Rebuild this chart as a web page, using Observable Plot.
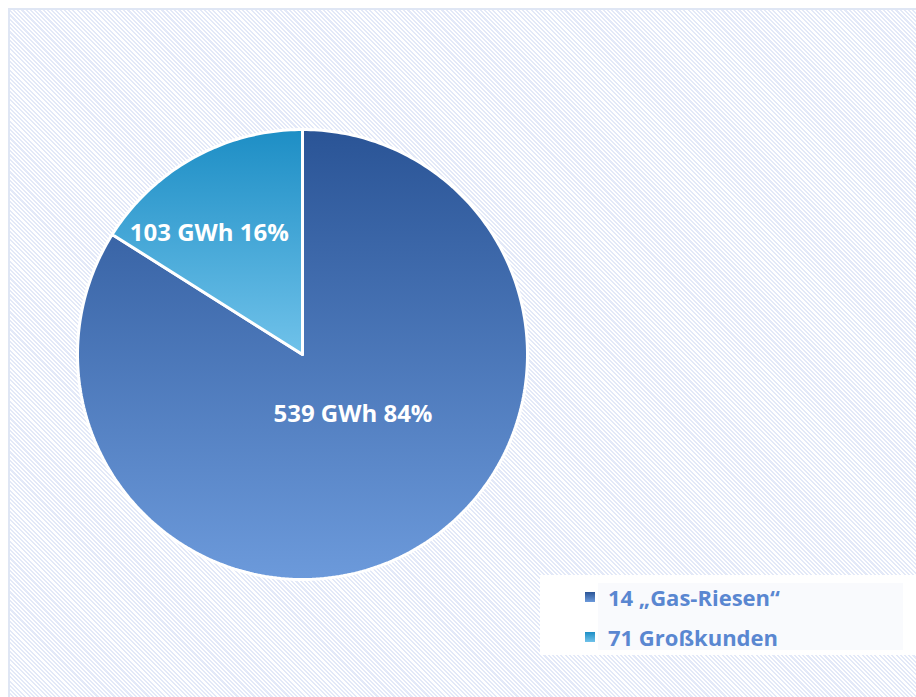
<!DOCTYPE html>
<html>
<head>
<meta charset="utf-8">
<script src="https://cdn.jsdelivr.net/npm/d3@7"></script>
<script src="https://cdn.jsdelivr.net/npm/@observablehq/plot@0.6"></script>
<style>
  html, body { margin: 0; padding: 0; background: #ffffff; }
  #wrap { position: relative; width: 916px; height: 697px; overflow: hidden; font-family: "Open Sans", Lato, sans-serif; }
  #hatch {
    position: absolute; left: 8px; top: 8px; right: 0; bottom: 0;
    border-top: 2px solid #dfe6f4; border-left: 2px solid #dfe6f4;
    background: repeating-linear-gradient(45deg, #ffffff 0px, #ffffff 1.5px, #e3e9f8 1.5px, #e3e9f8 3px);
  }
  #chart { position: absolute; left: 0; top: 0; }
  #legend {
    position: absolute; left: 540px; top: 575px; width: 376px; height: 80px; background: #ffffff;
  }
  #legend .inner { position: absolute; left: 58px; top: 8px; width: 305px; height: 67px; background: #f9fafd; }
  #legend .item { position: absolute; left: 45px; height: 30px; display: flex; align-items: center; white-space: nowrap; }
  #legend .sw { width: 10px; height: 10px; margin-right: 13px; }
  #legend .lab { font-weight: 700; font-size: 22px; color: #5a87d1; }
</style>
</head>
<body>
<div id="wrap">
  <div id="hatch"></div>
  <div id="chart"></div>
  <div id="legend"><div class="inner"></div></div>
</div>
<script>
// Data
const categories = ["14 „Gas-Riesen“", "71 Großkunden"];
const energyGWh = [539, 103];
const shareLabels = ["539 GWh 84%", "103 GWh 16%"];

// Styles
const gradients = [
  {id: "gBig", top: "#2a5496", bottom: "#6c9adb"},
  {id: "gSmall", top: "#1d8ec5", bottom: "#70c2ea"}
];

const pie = d3.pie().sort(null).startAngle(0).endAngle(2 * Math.PI);
const arcs = pie(energyGWh);

// Build slice outlines from the pie angles (unit circle, y up)
function slicePoints(a, i) {
  const pts = [{x: 0, y: 0, i}];
  const n = Math.max(8, Math.ceil((a.endAngle - a.startAngle) / (Math.PI / 180)));
  for (let k = 0; k <= n; k++) {
    const t = a.startAngle + (a.endAngle - a.startAngle) * k / n;
    pts.push({x: Math.sin(t), y: Math.cos(t), i});
  }
  pts.push({x: 0, y: 0, i});
  return pts;
}
const slices = arcs.map((a, i) => slicePoints(a, i));

const labelRadius = [0.4, 0.6];
const labelNudge = [[7, -19], [-28, -3]];
const labels = arcs.map((a, i) => {
  const m = (a.startAngle + a.endAngle) / 2;
  return {x: labelRadius[i] * Math.sin(m), y: labelRadius[i] * Math.cos(m), text: shareLabels[i]};
});

function defs() {
  const ns = "http://www.w3.org/2000/svg";
  const d = document.createElementNS(ns, "defs");
  for (const g of gradients) {
    const lg = document.createElementNS(ns, "linearGradient");
    lg.setAttribute("id", g.id);
    lg.setAttribute("x1", "0"); lg.setAttribute("y1", "0");
    lg.setAttribute("x2", "0"); lg.setAttribute("y2", "1");
    const s1 = document.createElementNS(ns, "stop");
    s1.setAttribute("offset", "0"); s1.setAttribute("stop-color", g.top);
    const s2 = document.createElementNS(ns, "stop");
    s2.setAttribute("offset", "1"); s2.setAttribute("stop-color", g.bottom);
    lg.appendChild(s1); lg.appendChild(s2);
    d.appendChild(lg);
  }
  return d;
}

const cx = 302, cy = 354, r = 225;
const chart = Plot.plot({
  width: 916,
  height: 697,
  margin: 0,
  style: {background: "transparent", fontFamily: "'Open Sans', Lato, sans-serif"},
  x: {domain: [-1, 1], range: [cx - r, cx + r], axis: null},
  y: {domain: [-1, 1], range: [cy + r, cy - r], axis: null},
  marks: [
    defs,
    ...slices.map((pts, i) => Plot.line(pts, {
      x: "x", y: "y", curve: "linear",
      fill: `url(#${gradients[i].id})`,
      stroke: "#ffffff", strokeWidth: 3, strokeLinejoin: "miter"
    })),
    ...labels.map((l, i) => Plot.text([l], {
      x: "x", y: "y", text: "text",
      dx: labelNudge[i][0], dy: labelNudge[i][1],
      fill: "#ffffff", fontSize: 24, fontWeight: "bold"
    }))
  ]
});
document.getElementById("chart").appendChild(chart);

// Legend
const legend = document.getElementById("legend");
categories.forEach((c, i) => {
  const it = document.createElement("div");
  it.className = "item";
  it.style.top = (7 + i * 40) + "px";
  const sw = document.createElement("span");
  sw.className = "sw";
  sw.style.background = `linear-gradient(${gradients[i].top}, ${gradients[i].bottom})`;
  const lab = document.createElement("span");
  lab.className = "lab";
  lab.textContent = c;
  it.appendChild(sw); it.appendChild(lab);
  legend.appendChild(it);
});
</script>
</body>
</html>
